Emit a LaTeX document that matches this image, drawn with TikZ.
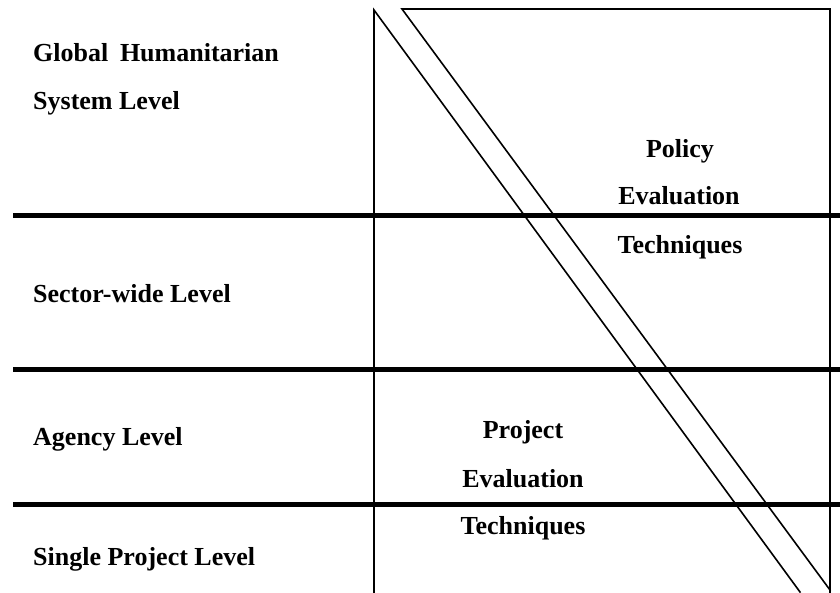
\documentclass[tikz,border=0pt]{standalone}
\usepackage{fontspec}
\setmainfont{Liberation Serif}
\usetikzlibrary{positioning}

\begin{document}
\begin{tikzpicture}[x=1pt,y=-1pt,
  thinline/.style={line width=1.6pt, line cap=rect},
  levelline/.style={line width=5pt},
  lbl/.style={font=\fontsize{26}{31}\selectfont\bfseries, inner sep=0pt}]
\useasboundingbox (0,0) rectangle (840,592);
% Corners of the two triangles
\coordinate (lefttop) at (374,10);
\coordinate (leftbot) at (374,592);
\coordinate (diagonebot) at (800,592);
\coordinate (righttopl) at (402,9);
\coordinate (rightcorner) at (830,9);
\coordinate (rightbot) at (830,592);
\coordinate (diagtwobot) at (830,590);
% Lower-left triangle
\draw[thinline] (leftbot) -- (lefttop) -- (diagonebot);
% Upper-right triangle
\draw[thinline] (diagtwobot) -- (righttopl) -- (rightcorner) -- (rightbot);
% Level separators
\foreach \yy/\nm in {215/sepa, 369/sepb, 504/sepc} {
  \coordinate (\nm w) at (13,\yy);
  \coordinate (\nm e) at (840,\yy);
  \draw[levelline] (\nm w) -- (\nm e);
}
% Level labels
\node[lbl, anchor=base west] (global) at (33,61) {Global\hspace{0.45em}Humanitarian};
\node[lbl, anchor=base west] (system) at (33,109) {System Level};
\node[lbl, anchor=base west] (sector) at (33,302) {Sector-wide Level};
\node[lbl, anchor=base west] (agency) at (33,445) {Agency Level};
\node[lbl, anchor=base west] (single) at (33,565) {Single Project Level};
% Policy techniques
\node[lbl, anchor=base] (policy) at (680,157) {Policy};
\node[lbl, anchor=base] (policyeval) at (679,204) {Evaluation};
\node[lbl, anchor=base] (policytech) at (680,253) {Techniques};
% Project techniques
\node[lbl, anchor=base] (project) at (523,438) {Project};
\node[lbl, anchor=base] (projecteval) at (523,487) {Evaluation};
\node[lbl, anchor=base] (projecttech) at (523,534) {Techniques};
\end{tikzpicture}
\end{document}
